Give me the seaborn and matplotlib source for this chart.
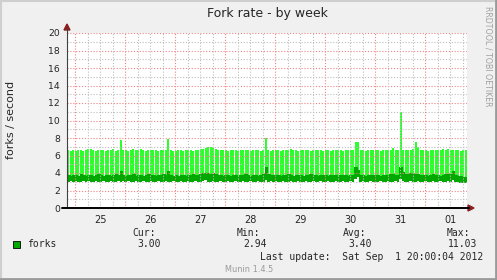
import numpy as np
import matplotlib
matplotlib.use("Agg")
import matplotlib.pyplot as plt
import seaborn as sns
from matplotlib.patches import Rectangle, Polygon
from matplotlib.lines import Line2D

# ---------------- data ----------------
day_labels = ['25', '26', '27', '28', '29', '30', '31', '01']
y_ticks = [0, 2, 4, 6, 8, 10, 12, 14, 16, 18, 20]

# max fork rate per ~72-minute bucket (starting Fri Aug 24 20:00)
max_d24 = [6.6, 6.5, 6.6]
max_d25 = [6.5, 6.6, 6.6, 6.5, 6.6, 6.7, 6.7, 6.6, 6.5, 6.6, 6.6, 6.6, 6.5, 6.6, 6.6, 6.7, 6.5, 6.6, 7.8, 6.6]
max_d26 = [6.6, 6.5, 6.6, 6.7, 6.6, 6.6, 6.7, 6.6, 6.5, 6.6, 6.6, 6.6, 6.6, 6.5, 6.6, 6.6, 6.6, 7.9, 6.6, 6.5]
max_d27 = [6.5, 6.6, 6.6, 6.5, 6.6, 6.6, 6.6, 6.5, 6.6, 6.6, 6.7, 6.7, 6.9, 7.0, 7.0, 6.9, 6.8, 6.6, 6.6, 6.6]
max_d28 = [6.6, 6.5, 6.6, 6.6, 6.6, 6.5, 6.6, 6.6, 6.6, 6.6, 6.5, 6.6, 6.6, 6.6, 6.5, 6.6, 8.0, 6.6, 6.5, 6.6]
max_d29 = [6.6, 6.6, 6.5, 6.6, 6.6, 6.6, 6.7, 6.6, 6.6, 6.5, 6.6, 6.6, 6.6, 6.6, 6.5, 6.6, 6.6, 6.6, 6.6, 6.5]
max_d30 = [6.6, 6.6, 6.5, 6.6, 6.6, 6.6, 6.6, 6.5, 6.6, 6.6, 6.6, 6.6, 7.55, 7.55, 6.6, 6.6, 6.5, 6.6, 6.6, 6.6]
max_d31 = [6.6, 6.6, 6.5, 6.6, 6.6, 6.6, 6.6, 6.9, 6.6, 6.6, 11.0, 6.6, 6.6, 6.6, 6.6, 6.7, 7.5, 7.0, 6.6, 6.6]
max_d01 = [6.6, 6.5, 6.6, 6.6, 6.6, 6.6, 6.6, 6.7, 6.6, 6.7, 6.6, 6.6, 6.6, 6.6, 6.5, 6.6, 6.6]

# average band (upper / lower edge)
top_d24 = [3.8, 3.7, 3.8]
top_d25 = [3.8, 3.7, 3.9, 3.8, 3.7, 3.8, 3.8, 3.7, 3.8, 3.9, 3.8, 3.7, 3.8, 3.8, 3.7, 3.8, 3.9, 3.8, 4.2, 3.8]
top_d26 = [3.7, 3.8, 3.8, 3.9, 3.7, 3.8, 3.8, 3.7, 3.8, 3.9, 3.8, 3.8, 3.7, 3.8, 3.8, 3.9, 3.8, 4.2, 3.8, 3.7]
top_d27 = [3.8, 3.7, 3.8, 3.8, 3.7, 3.8, 3.8, 3.9, 3.8, 3.8, 3.9, 4.0, 4.0, 4.0, 3.9, 4.0, 3.9, 3.8, 3.8, 3.7]
top_d28 = [3.8, 3.8, 3.7, 3.8, 3.8, 3.7, 3.8, 3.8, 3.9, 3.8, 3.7, 3.8, 3.8, 3.7, 3.8, 3.9, 4.7, 3.9, 3.8, 3.8]
top_d29 = [3.8, 3.8, 3.7, 3.8, 3.8, 3.9, 3.8, 3.7, 3.8, 3.8, 3.8, 3.7, 3.8, 3.8, 3.9, 3.8, 3.8, 3.7, 3.8, 3.8]
top_d30 = [3.8, 3.7, 3.8, 3.8, 3.8, 3.7, 3.8, 3.8, 3.8, 3.7, 3.8, 3.8, 4.7, 4.3, 3.8, 3.8, 3.7, 3.8, 3.8, 3.8]
top_d31 = [3.8, 3.8, 3.7, 3.8, 3.8, 3.8, 3.9, 3.9, 3.8, 3.8, 4.7, 4.1, 3.9, 3.9, 4.0, 4.0, 3.9, 3.9, 3.8, 3.8]
top_d01 = [3.8, 3.7, 3.8, 3.9, 3.8, 3.8, 3.7, 3.8, 3.9, 3.9, 3.9, 4.2, 3.8, 3.7, 3.7, 3.6, 3.6]

bot_d24 = [3.0, 3.1, 3.0]
bot_d25 = [3.1, 3.0, 3.0, 3.1, 3.0, 3.1, 3.0, 3.0, 3.1, 3.0, 3.0, 3.1, 3.0, 3.0, 3.1, 3.0, 3.0, 3.1, 3.0, 3.1]
bot_d26 = [3.0, 3.1, 3.0, 3.0, 3.1, 3.0, 3.0, 3.1, 3.0, 3.0, 3.1, 3.0, 3.0, 3.1, 3.0, 3.0, 3.1, 3.0, 3.0, 3.1]
bot_d27 = [3.0, 3.0, 3.1, 3.0, 3.0, 3.1, 3.0, 3.0, 3.1, 3.0, 3.0, 3.1, 3.2, 3.0, 3.0, 3.1, 3.0, 3.0, 3.1, 3.0]
bot_d28 = [3.0, 3.1, 3.0, 3.0, 3.1, 3.0, 3.0, 3.1, 3.0, 3.0, 3.1, 3.0, 3.0, 3.1, 3.0, 3.0, 3.2, 3.0, 3.1, 3.0]
bot_d29 = [3.1, 3.0, 3.0, 3.1, 3.0, 3.0, 3.1, 3.0, 3.0, 3.1, 3.0, 3.0, 3.1, 3.0, 3.0, 3.1, 3.0, 3.0, 3.1, 3.0]
bot_d30 = [3.0, 3.1, 3.0, 3.0, 3.1, 3.0, 3.0, 3.1, 3.0, 3.0, 3.1, 3.0, 3.3, 3.5, 3.0, 3.1, 3.0, 3.0, 3.1, 3.0]
bot_d31 = [3.0, 3.0, 3.1, 3.0, 3.0, 3.1, 3.0, 3.0, 3.1, 3.0, 3.3, 3.1, 3.0, 3.0, 3.1, 3.0, 3.0, 3.1, 3.0, 3.0]
bot_d01 = [3.1, 3.0, 3.0, 3.1, 3.0, 3.0, 3.1, 3.0, 3.0, 3.1, 3.0, 3.2, 3.0, 3.0, 2.9, 2.9, 2.9]

stat_names = ['Cur:', 'Min:', 'Avg:', 'Max:']
stat_values = ['3.00', '2.94', '3.40', '11.03']
series_name = 'forks'

max_rate = np.array(max_d24 + max_d25 + max_d26 + max_d27 + max_d28 + max_d29 + max_d30 + max_d31 + max_d01)
band_top = np.array(top_d24 + top_d25 + top_d26 + top_d27 + top_d28 + top_d29 + top_d30 + top_d31 + top_d01)
band_bot = np.array(bot_d24 + bot_d25 + bot_d26 + bot_d27 + bot_d28 + bot_d29 + bot_d30 + bot_d31 + bot_d01)

# ---------------- style ----------------
sns.set_style("white")
plt.rcParams['font.family'] = ['DejaVu Sans']

W, H = 497, 280
fig = plt.figure(figsize=(W / 100, H / 100), dpi=100)
fig.patch.set_facecolor('#f0f0f0')

L, R, T, B = 67, 467, 33, 208
ax = fig.add_axes([L / W, 1 - B / H, (R - L) / W, (B - T) / H])
ax.set_facecolor('white')

step = 1.2  # hours per bucket
n = len(max_rate)
xc = np.arange(n) * step + step / 2
light = '#2dff2d'
dark = '#00a800'

ax.bar(xc, max_rate - band_bot, bottom=band_bot, width=step * 0.65,
       color=light, linewidth=0, zorder=2)
xe = np.arange(n + 1) * step
ax.fill_between(xe, np.append(band_bot, band_bot[-1]), np.append(band_top, band_top[-1]),
                step='post', color=dark, linewidth=0, zorder=3)
sns.lineplot(x=xe, y=np.append(band_top, band_top[-1]), drawstyle='steps-post',
             color=dark, linewidth=0.8, ax=ax, zorder=3)

ax.set_xlim(0, n * step)
ax.set_ylim(0, 20)

# grid
red_grid = '#f08484'
gray_grid = '#bdbdbd'
for v in range(1, 21):
    c = red_grid if v % 2 == 0 else gray_grid
    ax.axhline(v, color=c, linewidth=0.8, linestyle=(0, (1, 1.6)), zorder=4)
for hh in np.arange(4, n * step, 6):
    c = red_grid if (hh - 4) % 24 == 0 else gray_grid
    ax.axvline(hh, color=c, linewidth=0.8, linestyle=(0, (1, 1.6)), zorder=4)

for s in ax.spines.values():
    s.set_visible(False)

# ticks
ax.set_yticks(y_ticks)
ax.set_yticklabels([str(t) for t in y_ticks], fontsize=6.7)
ax.set_yticks(range(1, 21, 2), minor=True)
ax.tick_params(axis='y', which='major', direction='inout', length=4, width=0.6,
               color='#c06060', pad=3)
ax.tick_params(axis='y', which='minor', direction='inout', length=2, width=0.6,
               color='#c06060')
noon = [16 + 24 * k for k in range(len(day_labels))]
ax.set_xticks(noon)
ax.set_xticklabels(day_labels, fontsize=7)
ax.set_xticks(np.arange(4, n * step, 6), minor=True)
ax.tick_params(axis='x', which='major', length=0, pad=5)
ax.tick_params(axis='x', which='minor', direction='inout', length=3, width=0.6,
               color='#c06060')

# axes lines and arrows (in pixel-ish figure coords)
def fx(px):
    return px / W

def fy(py):
    return 1 - py / H

fig.add_artist(Line2D([fx(67), fx(67)], [fy(208), fy(29)], color='#404040', linewidth=0.8))
fig.add_artist(Line2D([fx(62), fx(469)], [fy(208), fy(208)], color='black', linewidth=1.4))
fig.add_artist(Polygon([[fx(64), fy(30)], [fx(70), fy(30)], [fx(67), fy(24)]],
                       closed=True, color='#8b2020', transform=fig.transFigure))
fig.add_artist(Polygon([[fx(468), fy(205)], [fx(468), fy(211)], [fx(474), fy(208)]],
                       closed=True, color='#8b2020', transform=fig.transFigure))

# texts
fig.text(fx(267), fy(13), 'Fork rate - by week', ha='center', va='center', fontsize=9)
fig.text(fx(11), fy(120), 'forks / second', rotation=90, ha='center', va='center', fontsize=8)
fig.text(fx(488), fy(56), 'RRDTOOL / TOBI OETIKER', rotation=270, ha='center', va='center',
         fontsize=5.7, color='#a0a0a0')

mono = 'DejaVu Sans Mono'
name_x = [132, 237, 343, 447]
val_right = [161, 267, 372, 477]
for nm, x0 in zip(stat_names, name_x):
    fig.text(fx(x0), fy(233), nm, ha='left', va='center', fontsize=7, family=mono)
for vv, x1 in zip(stat_values, val_right):
    fig.text(fx(x1), fy(244), vv, ha='right', va='center', fontsize=7, family=mono)
fig.add_artist(Rectangle((fx(13), fy(248)), 7 / W, 7 / H, transform=fig.transFigure,
                         facecolor=dark, edgecolor='black', linewidth=0.6))
fig.text(fx(27), fy(244), series_name, ha='left', va='center', fontsize=7, family=mono)
fig.text(fx(483), fy(257), 'Last update:  Sat Sep  1 20:00:04 2012', ha='right', va='center',
         fontsize=7, family=mono)
fig.text(fx(249), fy(269), 'Munin 1.4.5', ha='center', va='center', fontsize=5.9, color='#999999')

# bevel frame
fig.add_artist(Line2D([0, 1], [fy(0.5), fy(0.5)], color='#cfcfcf', linewidth=1.5))
fig.add_artist(Line2D([fx(0.5), fx(0.5)], [0, 1], color='#cfcfcf', linewidth=1.5))
fig.add_artist(Line2D([0, 1], [fy(279), fy(279)], color='#9a9a9a', linewidth=2))
fig.add_artist(Line2D([fx(496), fx(496)], [0, 1], color='#9a9a9a', linewidth=2))

fig.savefig('out.png', dpi=100, facecolor=fig.get_facecolor())
